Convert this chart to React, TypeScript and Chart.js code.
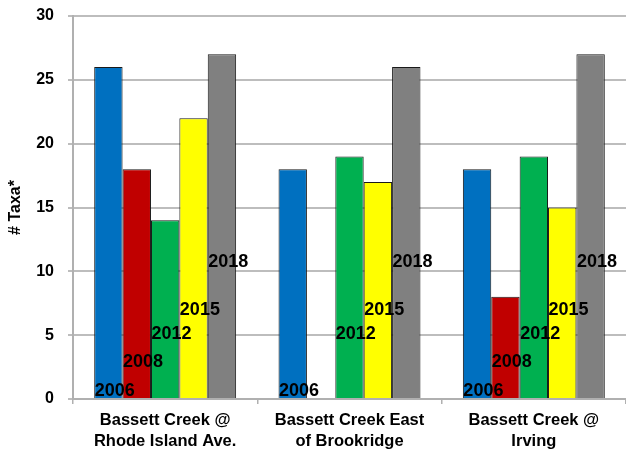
import React, { useEffect, useRef } from "react";
import { Chart, registerables } from "chart.js";

Chart.register(...registerables);

const categories: string[][] = [
  ["Bassett Creek @", "Rhode Island Ave."],
  ["Bassett Creek East", "of Brookridge"],
  ["Bassett Creek @", "Irving"],
];
const seriesNames = ["2006", "2008", "2012", "2015", "2018"];
const values2006 = [26, 18, 18];
const values2008: (number | null)[] = [18, null, 8];
const values2012 = [14, 19, 19];
const values2015 = [22, 17, 15];
const values2018 = [27, 26, 27];
const labelLevels = [0.6, 2.9, 5.1, 7.0, 10.7];
const colors = ["#0070C0", "#C00000", "#00B050", "#FFFF00", "#808080"];
const yTicks = [0, 5, 10, 15, 20, 25, 30];

const FONT = "Arial, 'Liberation Sans', sans-serif";

const yearLabelPlugin = {
  id: "yearLabels",
  afterDatasetsDraw(chart: any) {
    const ctx = chart.ctx;
    const yScale = chart.scales.y;
    ctx.save();
    ctx.font = `bold 18px ${FONT}`;
    ctx.fillStyle = "#000";
    ctx.textAlign = "left";
    ctx.textBaseline = "middle";
    chart.data.datasets.forEach((ds: any, i: number) => {
      const meta = chart.getDatasetMeta(i);
      meta.data.forEach((bar: any, j: number) => {
        if (ds.data[j] === null || ds.data[j] === undefined) return;
        const left = bar.x - bar.width / 2;
        ctx.fillText(seriesNames[i], left + 0.5, yScale.getPixelForValue(labelLevels[i]));
      });
    });
    ctx.restore();
  },
};

export default function App() {
  const ref = useRef<HTMLCanvasElement>(null);
  useEffect(() => {
    const seriesValues = [values2006, values2008, values2012, values2015, values2018];
    const chart = new Chart(ref.current as HTMLCanvasElement, {
      type: "bar",
      data: {
        labels: categories,
        datasets: seriesValues.map((vals, i) => ({
          label: seriesNames[i],
          data: vals,
          backgroundColor: colors[i],
          borderColor: "#1a1a1a",
          borderWidth: 1,
          barPercentage: 1,
          categoryPercentage: 0.77,
        })),
      },
      options: {
        animation: false,
        responsive: false,
        devicePixelRatio: 1,
        layout: { padding: { top: 16, right: 0, left: 0, bottom: 0 } },
        plugins: { legend: { display: false }, tooltip: { enabled: false } },
        scales: {
          x: {
            grid: {
              display: true,
              drawOnChartArea: false,
              drawTicks: true,
              tickLength: 5,
              color: "#b0b0b0",
              lineWidth: 1.5,
            },
            border: { color: "#b0b0b0", width: 2 },
            ticks: {
              color: "#000",
              font: { family: FONT, size: 16.5, weight: "bold", lineHeight: 1.28 },
              padding: 6,
              maxRotation: 0,
              autoSkip: false,
            },
            afterFit: (s: any) => {
              s.height = 57;
            },
          },
          y: {
            min: 0,
            max: 30,
            afterBuildTicks: (s: any) => {
              s.ticks = yTicks.map((v) => ({ value: v }));
            },
            grid: {
              color: "#bdbdbd",
              lineWidth: 2,
              tickLength: 5,
            },
            border: { color: "#b0b0b0", width: 2 },
            ticks: {
              color: "#000",
              font: { family: FONT, size: 16, weight: "bold" },
              padding: 14,
            },
            title: {
              display: true,
              text: "# Taxa*",
              color: "#000",
              font: { family: FONT, size: 16, weight: "bold" },
              padding: { top: 6, bottom: 0 },
            },
            afterFit: (s: any) => {
              s.width = 73;
              s.paddingTop = 0;
              s.paddingBottom = 0;
            },
          },
        },
      },
      plugins: [yearLabelPlugin],
    } as any);
    return () => chart.destroy();
  }, []);
  return (
    <div style={{ position: "absolute", left: 0, top: 0, width: 626, height: 456, background: "#fff" }}>
      <canvas ref={ref} width={626} height={456} style={{ width: 626, height: 456 }} />
    </div>
  );
}
